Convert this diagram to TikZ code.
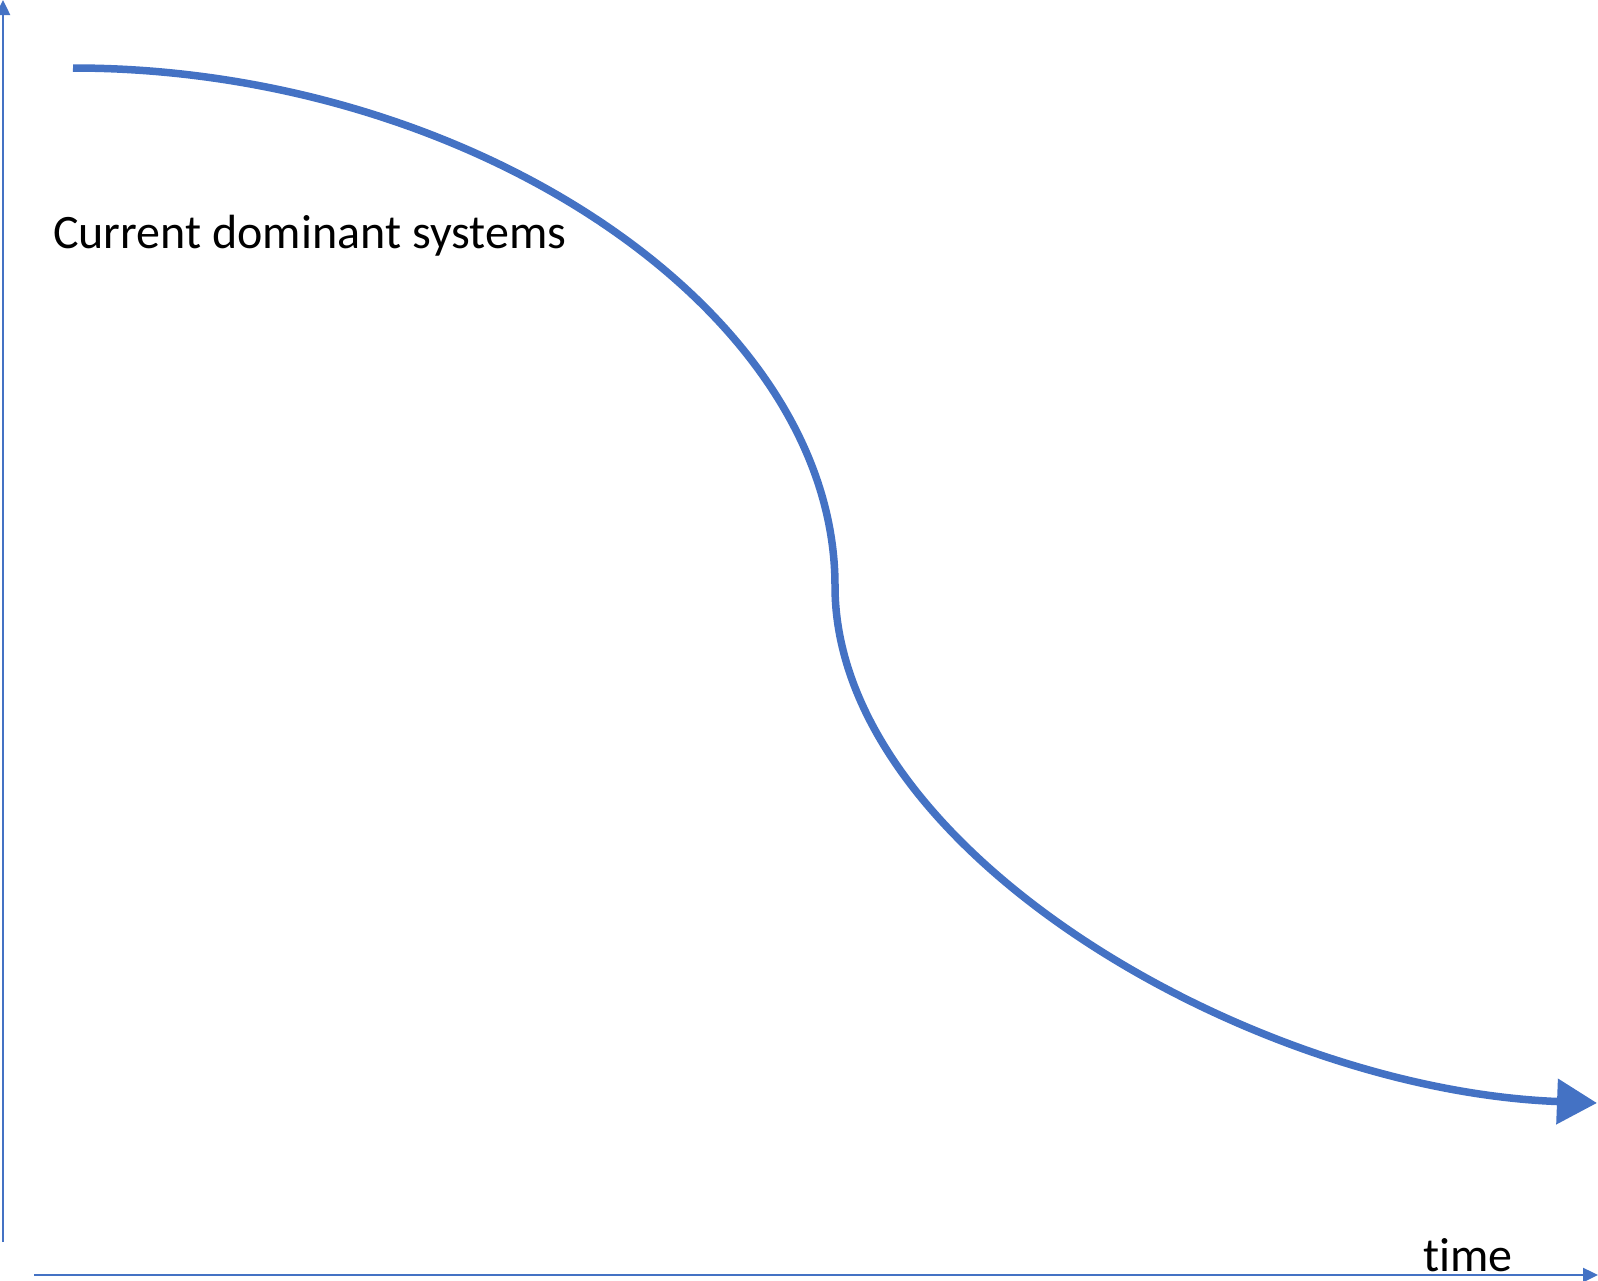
\documentclass[tikz,border=0pt]{standalone}
\usepackage{fontspec}
\setmainfont{Carlito}[Ligatures=NoCommon]
\usepackage{tikz}
\usetikzlibrary{arrows.meta}
\definecolor{curveblue}{HTML}{4472C4}
\tikzset{
  axis/.style={curveblue, line width=2.5pt},
  trend/.style={curveblue, line width=7.5pt},
  label/.style={font=\fontsize{48}{56}\selectfont, inner sep=0pt}
}

\begin{document}
\begin{tikzpicture}[x=1pt, y=-1pt]
\useasboundingbox (0,0) rectangle (1598,1280);

% Draw the axes
\coordinate (ybot) at (3,1242);
\coordinate (ytop) at (3,0);
\coordinate (xleft) at (34,1275);
\coordinate (xright) at (1598,1275);
\draw[axis, -{Triangle[length=15pt,width=14pt]}] (ybot) -- (ytop);
\draw[axis, -{Triangle[length=15pt,width=14pt]}] (xleft) -- (xright);

% Curve of the current systems
\coordinate (start) at (73,68);
\coordinate (mid) at (835,586);
\coordinate (stop) at (1597,1103);
\draw[trend, -{Triangle[length=40pt,width=44pt]}] (start)
  .. controls (470,68) and (835,310) .. (mid)
  .. controls (835,850) and (1250,1090) .. (stop);

% Add labels
\node[label, anchor=base west] (current) at (53,248) {Current dominant systems};
\node[label, anchor=base west, text depth=0pt] (time) at (1423,1271) {time};
\end{tikzpicture}
\end{document}
